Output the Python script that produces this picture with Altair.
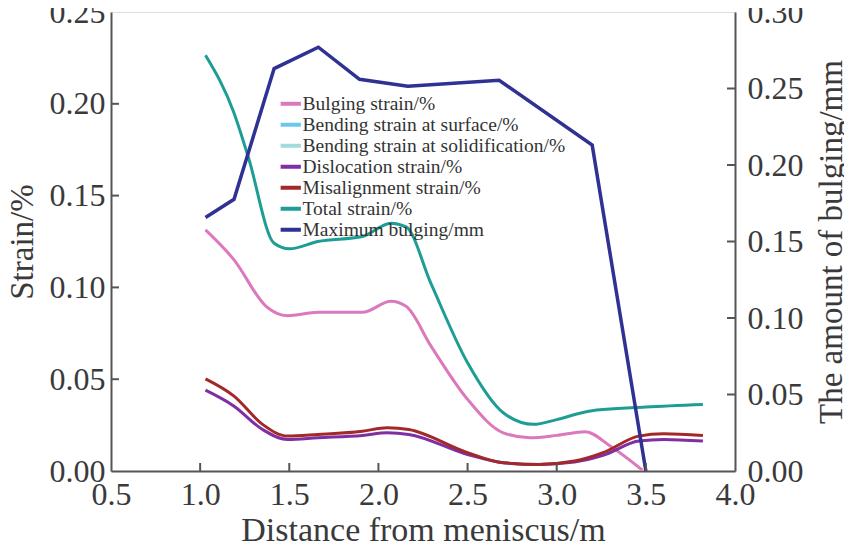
import altair as alt
import pandas as pd

# ---- data ----
series_names = [
    "Bulging strain/%",
    "Bending strain at surface/%",
    "Bending strain at solidification/%",
    "Dislocation strain/%",
    "Misalignment strain/%",
    "Total strain/%",
    "Maximum bulging/mm",
]
series_colors = ["#dc78bc", "#6cc8ef", "#a3dade", "#7f2ea3", "#a3282a", "#1e9d95", "#2f3193"]

bulging_x = [1.03, 1.19, 1.37, 1.49, 1.66, 1.91, 2.07, 2.155, 2.295, 2.50, 2.70, 2.85, 3.00, 3.16, 3.30, 3.48]
bulging_y = [0.1313, 0.115, 0.0897, 0.0846, 0.0864, 0.0864, 0.0924, 0.0897, 0.068, 0.039, 0.0208, 0.0181, 0.0194, 0.0214, 0.0136, 0.0005]

disloc_x = [1.03, 1.19, 1.35, 1.49, 1.66, 1.91, 2.05, 2.17, 2.50, 2.70, 2.90, 3.10, 3.26, 3.46, 3.60, 3.82]
disloc_y = [0.044, 0.0353, 0.0226, 0.0172, 0.0181, 0.0194, 0.0208, 0.0199, 0.009, 0.0045, 0.0036, 0.0049, 0.0085, 0.0163, 0.0172, 0.0163]

misal_x = [1.03, 1.19, 1.35, 1.49, 1.66, 1.91, 2.05, 2.17, 2.50, 2.70, 2.90, 3.10, 3.26, 3.46, 3.60, 3.82]
misal_y = [0.0502, 0.0408, 0.0254, 0.019, 0.0199, 0.0217, 0.0236, 0.0226, 0.010, 0.0045, 0.0036, 0.0054, 0.010, 0.019, 0.0203, 0.0194]

total_x = [1.03, 1.19, 1.27, 1.415, 1.50, 1.66, 1.91, 2.07, 2.155, 2.295, 2.50, 2.70, 2.87, 3.00, 3.18, 3.50, 3.82]
total_y = [0.2264, 0.195, 0.171, 0.124, 0.121, 0.125, 0.1277, 0.135, 0.133, 0.102, 0.0589, 0.0317, 0.0254, 0.028, 0.0326, 0.0348, 0.0362]

maxbulge_x = [1.03, 1.19, 1.415, 1.663, 1.894, 2.165, 2.677, 3.199, 3.50]
maxbulge_y = [0.1657, 0.1776, 0.263, 0.277, 0.256, 0.2515, 0.2554, 0.213, 0.0]

x_ticks = [0.5, 1.0, 1.5, 2.0, 2.5, 3.0, 3.5, 4.0]
left_ticks = [0.00, 0.05, 0.10, 0.15, 0.20, 0.25]
right_ticks = [0.00, 0.05, 0.10, 0.15, 0.20, 0.25, 0.30]

# ---- tables ----
rows = []
for name, xs, ys in [
    (series_names[0], bulging_x, bulging_y),
    (series_names[3], disloc_x, disloc_y),
    (series_names[4], misal_x, misal_y),
    (series_names[5], total_x, total_y),
]:
    for i, (a, b) in enumerate(zip(xs, ys)):
        rows.append({"series": name, "x": a, "y": b, "order": i})
strain_df = pd.DataFrame(rows)
bulge_df = pd.DataFrame({"series": series_names[6], "x": maxbulge_x, "y": maxbulge_y})

FONT = "Liberation Serif"
GREY = "#555555"
TXT = "#3a3a3a"
W, H = 624, 459

xscale = alt.Scale(domain=[0.5, 4.0], nice=False, zero=False)
lscale = alt.Scale(domain=[0, 0.25], nice=False)
rscale = alt.Scale(domain=[0, 0.30], nice=False)
cscale = alt.Scale(domain=series_names, range=series_colors)

xaxis = alt.Axis(
    title="Distance from meniscus/m", values=x_ticks, format=".1f", tickSize=0,
    labelFont=FONT, labelFontSize=32, labelColor=TXT, labelPadding=8,
    labelOverlap=False, labelFlush=False, grid=False,
    titleFont=FONT, titleFontSize=34, titleFontWeight="normal", titleColor=TXT,
    titleX=W / 2, titleY=69, titleBaseline="alphabetic",
    domainColor=GREY, domainWidth=2,
)

strain = alt.Chart(strain_df).mark_line(strokeWidth=3, interpolate="monotone").encode(
    x=alt.X("x:Q", scale=xscale, axis=xaxis),
    y=alt.Y("y:Q", scale=lscale, axis=alt.Axis(
        title="Strain/%", orient="left", values=left_ticks, format=".2f", tickSize=0,
        labelFont=FONT, labelFontSize=32, labelColor=TXT, labelPadding=6, grid=False,
        labelOverlap=False, labelFlush=False,
        titleFont=FONT, titleFontSize=33, titleFontWeight="normal", titleColor=TXT,
        titleX=-89, titleY=H / 2, titleAngle=270, titleBaseline="middle", titleAlign="center",
        domainColor=GREY, domainWidth=2,
    )),
    color=alt.Color("series:N", scale=cscale, sort=series_names, legend=alt.Legend(
        title=None, orient="none", legendX=170, legendY=82, padding=0,
        symbolType="M-1.35,0H1.35", symbolSize=225, symbolStrokeWidth=4, rowPadding=0,
        labelFont=FONT, labelFontSize=19.5, labelColor="#333333", labelOffset=2, labelLimit=400,
    )),
    detail="series:N",
    order="order:Q",
)

bulge = alt.Chart(bulge_df).mark_line(strokeWidth=3.5, interpolate="linear").encode(
    x=alt.X("x:Q", scale=xscale),
    y=alt.Y("y:Q", scale=rscale, axis=alt.Axis(
        title="The amount of bulging/mm", orient="right", values=right_ticks, format=".2f", tickSize=0,
        labelFont=FONT, labelFontSize=32, labelColor=TXT, labelPadding=12, grid=False,
        labelOverlap=False, labelFlush=False,
        titleFont=FONT, titleFontSize=33, titleFontWeight="normal", titleColor=TXT,
        titleX=96, titleY=H / 2, titleAngle=270, titleBaseline="middle", titleAlign="center",
        domainColor=GREY, domainWidth=2,
    )),
    color=alt.Color("series:N", scale=cscale),
)

# inward tick marks
lt = alt.Chart(pd.DataFrame({"v": left_ticks[1:-1]})).mark_rule(color=GREY, strokeWidth=2).encode(
    y=alt.Y("v:Q", scale=lscale, axis=None), x=alt.value(0), x2=alt.value(8))
rt = alt.Chart(pd.DataFrame({"v": right_ticks[1:-1]})).mark_rule(color=GREY, strokeWidth=2).encode(
    y=alt.Y("v:Q", scale=rscale, axis=None), x=alt.value(W - 8), x2=alt.value(W))
bt = alt.Chart(pd.DataFrame({"v": x_ticks[1:-1]})).mark_rule(color=GREY, strokeWidth=2).encode(
    x=alt.X("v:Q", scale=xscale), y=alt.value(H), y2=alt.value(H - 8))

chart = alt.layer(strain, bulge, lt, rt, bt).resolve_scale(y="independent").properties(
    width=W, height=H,
    autosize=alt.AutoSizeParams(type="none"),
    padding={"left": 103, "top": 4, "right": 109, "bottom": 71},
).configure_view(stroke=GREY, strokeWidth=2).configure(background="white")

chart.save("out.html", embed_options={"renderer": "svg", "actions": False})
